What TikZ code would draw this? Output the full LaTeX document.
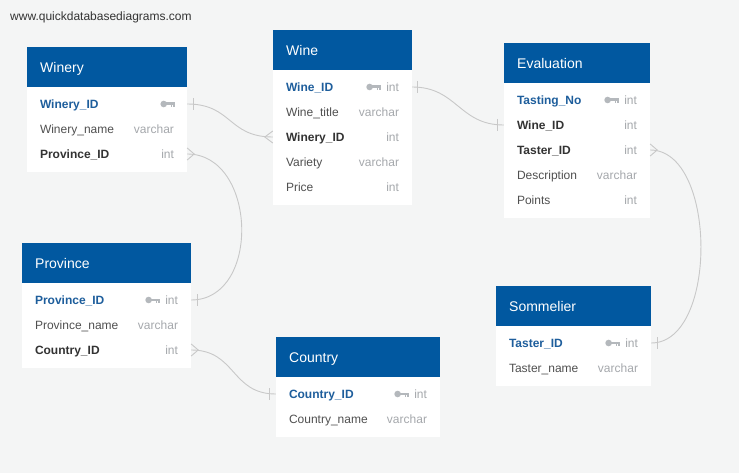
\documentclass[tikz,border=0pt]{standalone}
\usepackage{fontspec}
\setmainfont{Liberation Sans}
\definecolor{canvas}{RGB}{244,245,245}
\definecolor{qdbblue}{RGB}{1,88,160}
\definecolor{pkblue}{RGB}{30,94,156}
\definecolor{fkgrey}{RGB}{51,51,51}
\definecolor{fieldgrey}{RGB}{80,80,80}
\definecolor{typegrey}{RGB}{165,168,172}
\definecolor{keygrey}{RGB}{180,184,188}
\definecolor{linkgrey}{RGB}{200,200,200}
\tikzset{
  tblhead/.style={fill=qdbblue, text=white, anchor=north west, minimum height=40pt,
    inner xsep=13pt, align=left, text height=10pt, text depth=0pt,
    font=\fontsize{14}{16}\selectfont},
  field/.style={minimum height=25pt, inner xsep=13pt, inner ysep=0pt, align=left,
    text height=8.6pt, text depth=0pt, font=\fontsize{12}{14}\selectfont, text=fieldgrey},
  pk/.style={field, text=pkblue, font=\fontsize{12}{14}\selectfont\bfseries},
  fk/.style={field, text=fkgrey, font=\fontsize{12}{14}\selectfont\bfseries},
  typ/.style={anchor=east, inner sep=0pt, text height=8.6pt, text depth=0pt,
    font=\fontsize{12}{14}\selectfont, text=typegrey},
  link/.style={draw=linkgrey, line width=0.9pt},
  pkkey/.pic={
    \fill[keygrey] (-11.5,0) circle (3.3pt);
    \fill[keygrey] (-9,-1.5) rectangle (0,1.3);
    \fill[keygrey] (-4.5,1) rectangle (-2.8,3.3);
    \fill[keygrey] (-1.8,1) rectangle (0,3.3);
  }
}
% relationship ends
\newcommand{\onebar}[2]{\draw[link] ([xshift=#2,yshift=6pt]#1) -- ([xshift=#2,yshift=-6pt]#1);}
\newcommand{\crowfoot}[2]{\draw[link] ([yshift=6pt]#1) -- ([xshift=#2]#1) -- ([yshift=-6pt]#1);}
\begin{document}
\begin{tikzpicture}[x=1pt, y=-1pt]
  \fill[canvas] (0,0) rectangle (739,473);
  \useasboundingbox (0,0) rectangle (739,473);
  \node[font=\fontsize{12}{14}\selectfont, text=fkgrey, anchor=west, inner sep=0pt,
    text height=8.6pt, text depth=0pt] (qdbd) at (10,16) {www.quickdatabasediagrams.com};

  % Winery
  \begin{scope}[field/.append style={text width=134pt}]
    \fill[white] (27,87) rectangle ++(160,85);
    \node[tblhead, text width=134pt] (winery) at (27,47) {Winery};
    \node[pk] (winery-id) at (107,104) {Winery\_ID};
    \node[field] (winery-name) at (107,129) {Winery\_name};
    \node[fk] (winery-prov) at (107,154) {Province\_ID};
    \pic at ([xshift=-12pt]winery-id.east) {pkkey};
    \node[typ] (winery-name-t) at ([xshift=-13pt]winery-name.east) {varchar};
    \node[typ] (winery-prov-t) at ([xshift=-13pt]winery-prov.east) {int};
  \end{scope}

  % Wine
  \begin{scope}[field/.append style={text width=113pt}]
    \fill[white] (273,70) rectangle ++(139,135);
    \node[tblhead, text width=113pt] (wine) at (273,30) {Wine};
    \node[pk] (wine-id) at (342.5,87) {Wine\_ID};
    \node[field] (wine-title) at (342.5,112) {Wine\_title};
    \node[fk] (wine-winery) at (342.5,137) {Winery\_ID};
    \node[field] (wine-variety) at (342.5,162) {Variety};
    \node[field] (wine-price) at (342.5,187) {Price};
    \node[typ] (wine-id-t) at ([xshift=-13pt]wine-id.east) {int};
    \pic at ([xshift=-5pt]wine-id-t.west) {pkkey};
    \node[typ] (wine-title-t) at ([xshift=-13pt]wine-title.east) {varchar};
    \node[typ] (wine-winery-t) at ([xshift=-13pt]wine-winery.east) {int};
    \node[typ] (wine-variety-t) at ([xshift=-13pt]wine-variety.east) {varchar};
    \node[typ] (wine-price-t) at ([xshift=-13pt]wine-price.east) {int};
  \end{scope}

  % Evaluation
  \begin{scope}[field/.append style={text width=120pt}]
    \fill[white] (504,83) rectangle ++(146,135);
    \node[tblhead, text width=120pt] (eval) at (504,43) {Evaluation};
    \node[pk] (eval-no) at (577,100) {Tasting\_No};
    \node[fk] (eval-wine) at (577,125) {Wine\_ID};
    \node[fk] (eval-taster) at (577,150) {Taster\_ID};
    \node[field] (eval-desc) at (577,175) {Description};
    \node[field] (eval-points) at (577,200) {Points};
    \node[typ] (eval-no-t) at ([xshift=-13pt]eval-no.east) {int};
    \pic at ([xshift=-5pt]eval-no-t.west) {pkkey};
    \node[typ] (eval-wine-t) at ([xshift=-13pt]eval-wine.east) {int};
    \node[typ] (eval-taster-t) at ([xshift=-13pt]eval-taster.east) {int};
    \node[typ] (eval-desc-t) at ([xshift=-13pt]eval-desc.east) {varchar};
    \node[typ] (eval-points-t) at ([xshift=-13pt]eval-points.east) {int};
  \end{scope}

  % Province
  \begin{scope}[field/.append style={text width=143pt}]
    \fill[white] (22,283) rectangle ++(169,85);
    \node[tblhead, text width=143pt] (prov) at (22,243) {Province};
    \node[pk] (prov-id) at (106.5,300) {Province\_ID};
    \node[field] (prov-name) at (106.5,325) {Province\_name};
    \node[fk] (prov-country) at (106.5,350) {Country\_ID};
    \node[typ] (prov-id-t) at ([xshift=-13pt]prov-id.east) {int};
    \pic at ([xshift=-5pt]prov-id-t.west) {pkkey};
    \node[typ] (prov-name-t) at ([xshift=-13pt]prov-name.east) {varchar};
    \node[typ] (prov-country-t) at ([xshift=-13pt]prov-country.east) {int};
  \end{scope}

  % Country
  \begin{scope}[field/.append style={text width=138pt}]
    \fill[white] (276,377) rectangle ++(164,60);
    \node[tblhead, text width=138pt] (country) at (276,337) {Country};
    \node[pk] (country-id) at (358,394) {Country\_ID};
    \node[field] (country-name) at (358,419) {Country\_name};
    \node[typ] (country-id-t) at ([xshift=-13pt]country-id.east) {int};
    \pic at ([xshift=-5pt]country-id-t.west) {pkkey};
    \node[typ] (country-name-t) at ([xshift=-13pt]country-name.east) {varchar};
  \end{scope}

  % Sommelier
  \begin{scope}[field/.append style={text width=129pt}]
    \fill[white] (496,326) rectangle ++(155,60);
    \node[tblhead, text width=129pt] (somm) at (496,286) {Sommelier};
    \node[pk] (somm-id) at (573.5,343) {Taster\_ID};
    \node[field] (somm-name) at (573.5,368) {Taster\_name};
    \node[typ] (somm-id-t) at ([xshift=-13pt]somm-id.east) {int};
    \pic at ([xshift=-5pt]somm-id-t.west) {pkkey};
    \node[typ] (somm-name-t) at ([xshift=-13pt]somm-name.east) {varchar};
  \end{scope}

  % relationships
  \draw[link] (winery-id.east) .. controls +(45,0) and +(-45,0) .. (wine-winery.west);
  \onebar{winery-id.east}{6pt}
  \crowfoot{wine-winery.west}{-8pt}
  \draw[link] (winery-prov.east) .. controls +(70,0) and +(70,0) .. (prov-id.east);
  \crowfoot{winery-prov.east}{7pt}
  \onebar{prov-id.east}{6pt}
  \draw[link] (prov-country.east) .. controls +(45,0) and +(-45,0) .. (country-id.west);
  \crowfoot{prov-country.east}{7pt}
  \onebar{country-id.west}{-6pt}
  \draw[link] (wine-id.east) .. controls +(45,0) and +(-45,0) .. (eval-wine.west);
  \onebar{wine-id.east}{5pt}
  \onebar{eval-wine.west}{-6pt}
  \draw[link] (eval-taster.east) .. controls +(67,0) and +(67,0) .. (somm-id.east);
  \crowfoot{eval-taster.east}{7pt}
  \onebar{somm-id.east}{6pt}
\end{tikzpicture}
\end{document}
